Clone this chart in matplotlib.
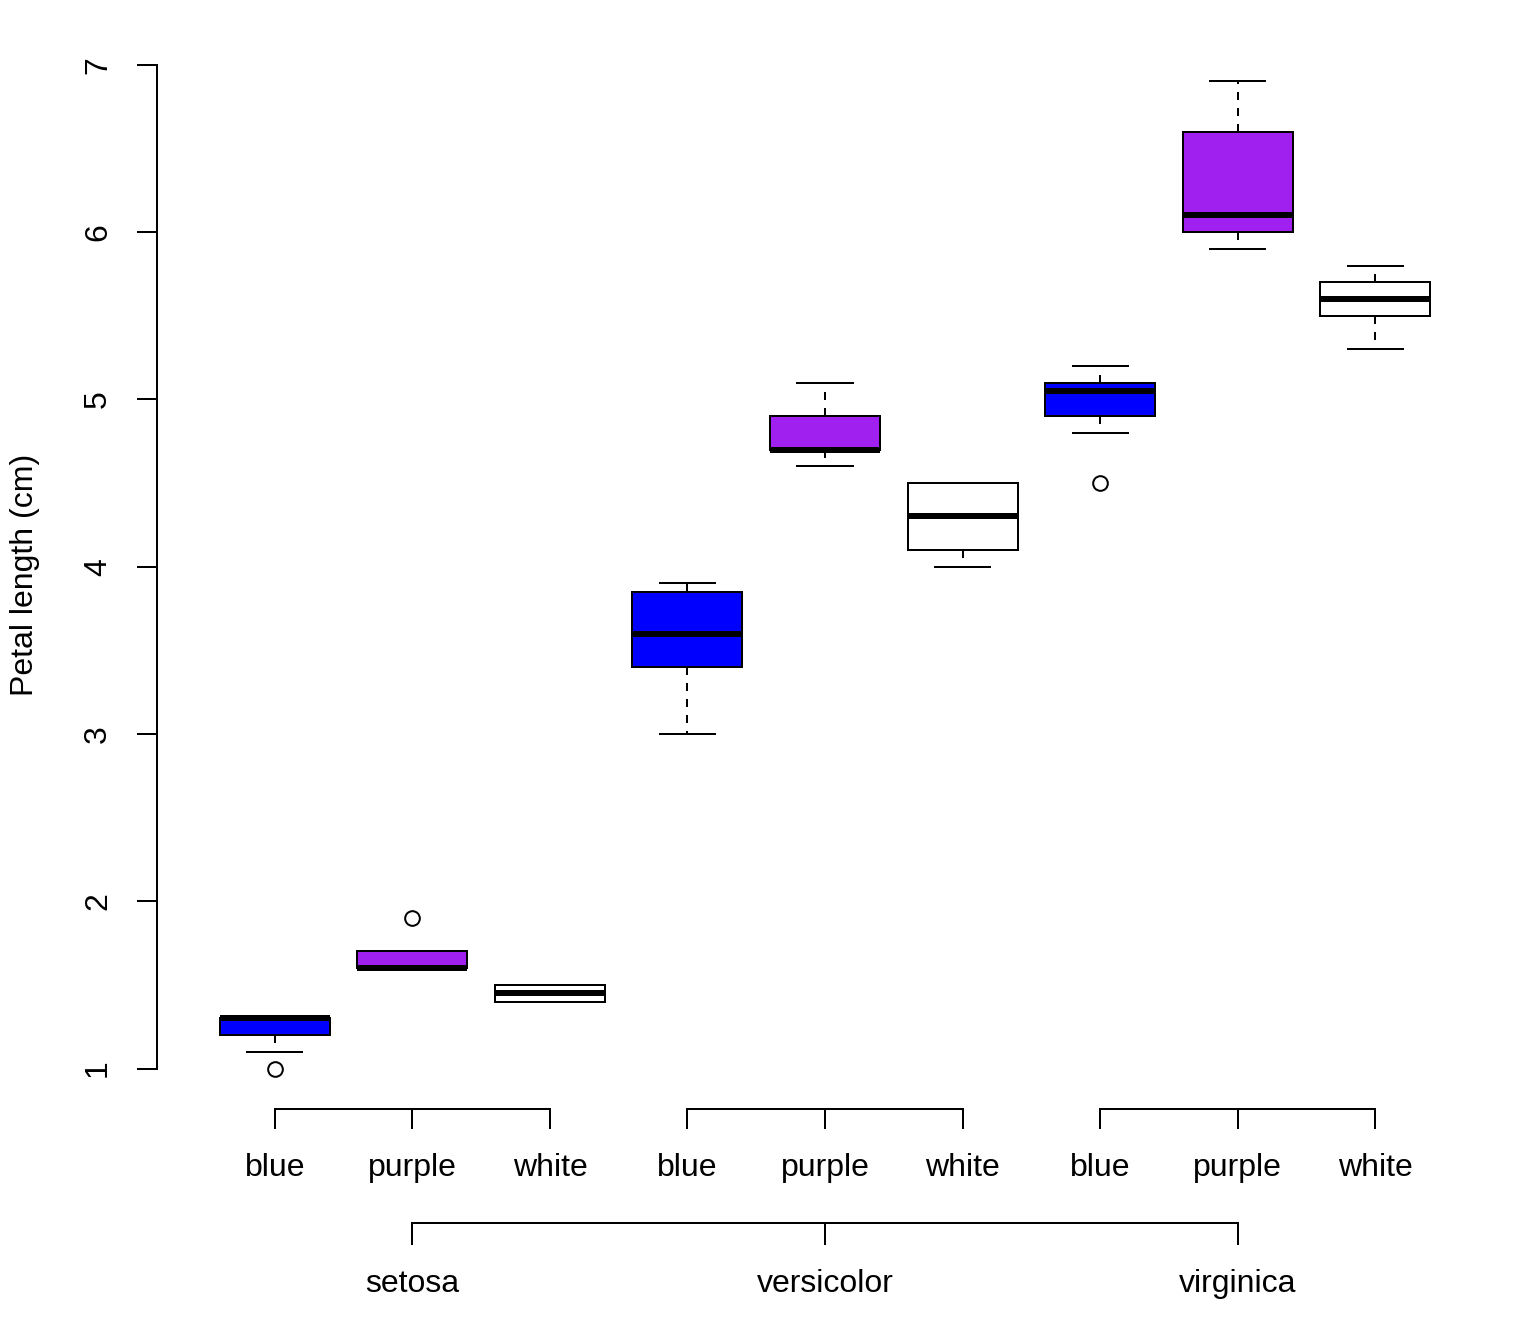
import matplotlib
matplotlib.use('Agg')
import matplotlib.pyplot as plt
from matplotlib.transforms import blended_transform_factory

plt.rcParams['font.family'] = ['Liberation Sans', 'DejaVu Sans']

species = ['setosa', 'versicolor', 'virginica']
colours = ['blue', 'purple', 'white']
fills = ['#0000FF', '#A020F0', '#FFFFFF']

# per box: species x colour, in plotting order
whislo = [1.1, 1.6, 1.4, 3.0, 4.6, 4.0, 4.8, 5.9, 5.3]
q1 = [1.2, 1.6, 1.4, 3.4, 4.7, 4.1, 4.9, 6.0, 5.5]
med = [1.3, 1.6, 1.45, 3.6, 4.7, 4.3, 5.05, 6.1, 5.6]
q3 = [1.3, 1.7, 1.5, 3.85, 4.9, 4.5, 5.1, 6.6, 5.7]
whishi = [1.3, 1.7, 1.5, 3.9, 5.1, 4.5, 5.2, 6.9, 5.8]
fliers = [[1.0], [1.9], [], [], [], [], [4.5], [], []]

fig = plt.figure(figsize=(8, 7), dpi=192)
ax = fig.add_axes([157 / 1536, 236 / 1344, 1336 / 1536, 1066 / 1344])

stats = []
for i in range(9):
    stats.append(dict(med=med[i], q1=q1[i], q3=q3[i], whislo=whislo[i],
                      whishi=whishi[i], fliers=fliers[i]))

positions = list(range(1, 10))
bp = ax.bxp(stats, positions=positions, widths=0.8, capwidths=0.4,
            patch_artist=True, showfliers=True,
            boxprops=dict(edgecolor='black', linewidth=0.75),
            medianprops=dict(color='black', linewidth=2.25, solid_capstyle='butt'),
            whiskerprops=dict(color='black', linewidth=0.75, linestyle=(0, (4, 4))),
            capprops=dict(color='black', linewidth=0.75),
            flierprops=dict(marker='o', markerfacecolor='none', markeredgecolor='black',
                            markersize=5.5, markeredgewidth=0.75, linestyle='none'))
for k, patch in enumerate(bp['boxes']):
    patch.set_facecolor(fills[k % 3])
    patch.set_zorder(2)
for line in bp['medians']:
    line.set_zorder(3)

ax.set_xlim(0.142, 9.858)
ax.set_ylim(0.764, 7.136)
for s in ['top', 'right', 'bottom']:
    ax.spines[s].set_visible(False)
ax.spines['left'].set_bounds(1, 7)
ax.spines['left'].set_linewidth(0.75)
ax.set_yticks([1, 2, 3, 4, 5, 6, 7])
ax.set_yticklabels(['1', '2', '3', '4', '5', '6', '7'], rotation=90, va='center')
ax.tick_params(axis='y', length=7.5, width=0.75, pad=9, labelsize=12)
ax.set_xticks([])
fig.text(25 / 1536, 1 - 575 / 1344, 'Petal length (cm)', rotation=90,
         ha='center', va='center', fontsize=12)

# two-level labels beneath the plot, drawn as brackets
tr = blended_transform_factory(ax.transData, fig.transFigure)
def fy(p):
    return 1 - p / 1344

for g in range(3):
    xs = positions[g * 3:g * 3 + 3]
    ax.plot([xs[0], xs[-1]], [fy(1109), fy(1109)], color='black', lw=0.75,
            transform=tr, clip_on=False, solid_capstyle='projecting')
    for j, x in enumerate(xs):
        ax.plot([x, x], [fy(1109), fy(1128)], color='black', lw=0.75,
                transform=tr, clip_on=False)
        ax.text(x, fy(1168), colours[j], ha='center', va='center', fontsize=12,
                transform=tr)

centres = [positions[1], positions[4], positions[7]]
ax.plot([centres[0], centres[-1]], [fy(1223), fy(1223)], color='black', lw=0.75,
        transform=tr, clip_on=False, solid_capstyle='projecting')
for j, x in enumerate(centres):
    ax.plot([x, x], [fy(1223), fy(1244)], color='black', lw=0.75,
            transform=tr, clip_on=False)
    ax.text(x, fy(1284), species[j], ha='center', va='center', fontsize=12,
            transform=tr)

fig.savefig('out.png', dpi=192)
